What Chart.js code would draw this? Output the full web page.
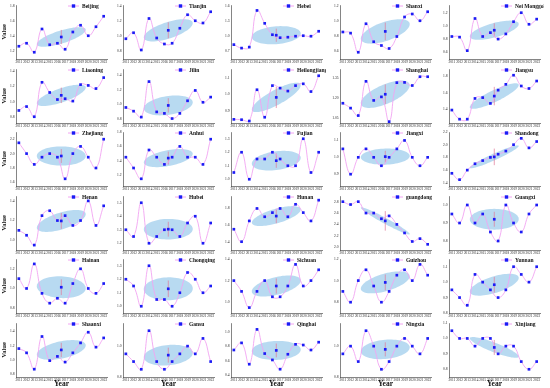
<!DOCTYPE html>
<html>
<head>
<meta charset="utf-8">
<script src="https://cdn.jsdelivr.net/npm/chart.js@4/dist/chart.umd.min.js"></script>
<style>
html,body{margin:0;padding:0;background:#fff;}
#wrap{position:relative;width:550px;height:388px;overflow:hidden;}
#wrap canvas{position:absolute;}
</style>
</head>
<body>
<div id="wrap"></div>
<script>
const years = [2011,2012,2013,2014,2015,2016,2017,2018,2019,2020,2021,2022];

// values, one array per province
const beijing      = [1.27,1.31,1.19,1.50,1.29,1.31,1.23,1.46,1.55,1.41,1.53,1.67];
const tianjin      = [0.97,1.05,0.82,1.24,0.98,0.90,0.91,1.11,1.29,1.21,1.18,1.33];
const hebei        = [0.83,0.76,0.78,1.52,1.26,1.03,0.97,0.98,1.00,1.01,1.00,1.10];
const shanxi       = [0.86,0.845,0.59,0.97,0.73,0.68,0.64,0.80,1.06,1.10,1.01,1.13];
const neiMonggol   = [0.84,0.83,0.62,1.12,0.84,0.90,0.80,0.88,1.07,1.21,1.03,1.11];
const liaoning     = [0.89,0.94,0.81,1.25,1.12,1.03,1.04,1.01,1.22,1.21,1.17,1.31];
const jilin        = [0.96,0.91,0.83,1.31,0.90,0.88,0.81,0.88,1.05,1.19,1.03,1.10];
const heilongjiang = [0.848,0.846,0.838,1.028,0.861,1.053,1.038,1.02,1.053,1.064,1.017,1.113];
const shanghai     = [1.162,1.126,1.071,1.324,1.183,1.209,1.026,1.314,1.316,1.293,1.358,1.358];
const jiangsu      = [1.39,1.28,1.28,1.53,1.54,1.47,1.63,1.70,1.81,1.68,1.65,1.74];
const zhejiang     = [2.15,2.00,1.85,1.95,2.00,1.95,1.65,2.00,2.10,1.95,1.80,2.20];
const anhui        = [1.45,1.30,1.15,1.55,1.45,1.35,1.45,1.60,1.45,1.45,1.35,1.70];
const fujian       = [1.05,1.20,1.00,1.15,1.15,1.20,1.15,1.10,1.10,1.30,1.05,1.20];
const jiangxi      = [1.05,0.90,1.00,1.05,1.00,0.95,1.00,1.05,1.10,1.00,0.95,1.00];
const shandong     = [1.55,1.45,1.60,1.70,1.75,1.80,1.85,1.90,2.00,2.10,1.95,2.05];
const henan        = [1.10,1.05,0.95,1.25,1.30,1.20,1.25,1.15,1.20,1.40,1.15,1.35];
const hubei        = [1.30,1.25,1.50,1.20,1.25,1.30,1.30,1.25,1.35,1.40,1.20,1.35];
const hunan        = [1.55,1.40,1.65,1.80,1.70,1.75,1.80,1.70,1.85,1.75,1.65,1.90];
const guangdong    = [2.80,2.75,2.80,2.60,2.60,2.50,2.55,2.40,2.25,2.10,2.15,2.05];
const guangxi      = [0.95,0.90,1.00,0.90,0.95,0.85,0.80,1.00,0.90,0.85,0.95,1.00];
const hainan       = [1.10,1.00,1.25,0.95,0.85,0.90,0.85,1.05,1.20,1.00,0.95,1.05];
const chongqing    = [1.20,1.15,1.00,1.30,1.05,1.05,1.00,1.10,1.25,1.20,1.10,1.15];
const sichuan      = [1.20,1.10,0.95,1.10,1.20,1.05,1.05,1.15,1.35,1.15,1.20,1.30];
const guizhou      = [0.90,0.80,1.00,1.10,0.95,0.80,0.90,1.05,1.10,1.00,1.15,1.05];
const yunnan       = [0.95,0.90,0.85,1.05,1.00,0.95,0.90,0.95,1.10,1.05,1.00,1.10];
const shaanxi      = [1.16,1.10,0.87,1.33,0.99,1.05,0.97,1.10,1.24,1.39,1.18,1.31];
const gansu        = [0.95,0.90,0.85,1.10,0.90,0.85,0.90,0.95,1.00,0.95,1.05,0.90];
const qinghai      = [0.75,0.85,0.55,1.04,0.70,0.61,0.48,0.69,0.83,0.82,0.75,0.86];
const ningxia      = [0.95,1.00,0.90,1.10,1.00,0.85,0.90,1.00,1.05,1.00,0.95,1.05];
const xinjiang     = [1.05,1.00,1.00,0.95,1.00,1.00,0.90,0.95,0.95,0.85,0.80,0.85];

// name, values, y tick labels, y axis min, y axis max
const panels = [
  ["Beijing", beijing, [1.2,1.4,1.6,1.8], 1.10, 1.82],
  ["Tianjin", tianjin, [0.8,1.0,1.2,1.4], 0.70, 1.42],
  ["Hebei", hebei, [0.7,1.0,1.3,1.6], 0.54, 1.63],
  ["Shanxi", shanxi, [0.6,0.8,1.0,1.2], 0.50, 1.22],
  ["Nei Monggol", neiMonggol, [0.6,0.8,1.0,1.2], 0.49, 1.33],
  ["Liaoning", liaoning, [0.8,1.0,1.2,1.4], 0.73, 1.42],
  ["Jilin", jilin, [0.8,1.0,1.2,1.4], 0.75, 1.48],
  ["Heilongjiang", heilongjiang, [0.9,1.0,1.1], 0.826, 1.154],
  ["Shanghai", shanghai, [1.05,1.20,1.35], 1.016, 1.415],
  ["Jiangsu", jiangsu, [1.4,1.6,1.8], 1.234, 1.885],
  ["Zhejiang", zhejiang, [1.6,1.8,2.0,2.2], 1.55, 2.30],
  ["Anhui", anhui, [1.2,1.4,1.6,1.8], 1.05, 1.80],
  ["Fujian", fujian, [1.0,1.1,1.2,1.3], 0.95, 1.35],
  ["Jiangxi", jiangxi, [0.9,1.0,1.1], 0.83, 1.15],
  ["Shandong", shandong, [1.4,1.6,1.8,2.0,2.2], 1.35, 2.20],
  ["Henan", henan, [1.0,1.2,1.4], 0.90, 1.45],
  ["Hubei", hubei, [1.2,1.3,1.4,1.5], 1.15, 1.55],
  ["Hunan", hunan, [1.4,1.6,1.8], 1.30, 1.95],
  ["guangdong", guangdong, [2.0,2.2,2.4,2.6,2.8], 1.95, 2.90],
  ["Guangxi", guangxi, [0.8,0.9,1.0], 0.75, 1.05],
  ["Hainan", hainan, [0.8,1.0,1.2], 0.75, 1.30],
  ["Chongqing", chongqing, [1.0,1.1,1.2,1.3], 0.95, 1.35],
  ["Sichuan", sichuan, [1.0,1.2,1.4], 0.90, 1.40],
  ["Guizhou", guizhou, [0.8,1.0,1.2], 0.70, 1.20],
  ["Yunnan", yunnan, [0.8,0.9,1.0,1.1], 0.80, 1.15],
  ["Shaanxi", shaanxi, [0.8,1.0,1.2,1.4], 0.76, 1.52],
  ["Gansu", gansu, [0.8,1.0,1.2], 0.80, 1.15],
  ["Qinghai", qinghai, [0.4,0.6,0.8,1.0], 0.37, 1.13],
  ["Ningxia", ningxia, [0.8,1.0,1.2], 0.80, 1.15],
  ["Xinjiang", xinjiang, [0.8,0.9,1.0,1.1], 0.75, 1.10]
];

const PINK = "#f2a4f2";
const BLUE = "#1c1cf5";
const SERIF = "'Liberation Serif', 'DejaVu Serif', serif";

const axisX = [16,123,231,340,449];
const rowH = 63.5;
const plotW = 95;

function stats(vals){
  const n = vals.length;
  const mx = years.reduce((a,b)=>a+b,0)/n;
  const my = vals.reduce((a,b)=>a+b,0)/n;
  let sxx=0, syy=0, sxy=0;
  for(let i=0;i<n;i++){
    const dx = years[i]-mx, dy = vals[i]-my;
    sxx += dx*dx; syy += dy*dy; sxy += dx*dy;
  }
  sxx/=(n-1); syy/=(n-1); sxy/=(n-1);
  return { mx, my, sxx, syy, sxy, ci: 2.201*Math.sqrt(syy)/Math.sqrt(n) };
}

const ellipsePlugin = {
  id: "ellipse",
  beforeDatasetsDraw(chart){
    const st = chart.options.plugins.ellipse;
    if(!st) return;
    const { ctx, scales:{x, y} } = chart;
    const a = st.sxx, b = st.sxy, c = st.syy;
    const tr = (a+c)/2, d = Math.sqrt(((a-c)/2)**2 + b*b);
    const l1 = tr + d, l2 = Math.max(tr - d, 0);
    const th = 0.5*Math.atan2(2*b, a-c);
    const k = 0.88;
    ctx.save();
    ctx.beginPath();
    for(let i=0;i<=72;i++){
      const t = i/72*Math.PI*2;
      const u = k*Math.sqrt(l1)*Math.cos(t), v = k*Math.sqrt(l2)*Math.sin(t);
      const px = x.getPixelForValue(st.mx + u*Math.cos(th) - v*Math.sin(th));
      const py = y.getPixelForValue(st.my + u*Math.sin(th) + v*Math.cos(th));
      if(i===0) ctx.moveTo(px,py); else ctx.lineTo(px,py);
    }
    ctx.closePath();
    ctx.fillStyle = "rgba(160,205,236,0.75)";
    ctx.fill();
    // interval bar at the centroid
    const cx = x.getPixelForValue(st.mx);
    ctx.beginPath();
    ctx.moveTo(cx, y.getPixelForValue(st.my - st.ci));
    ctx.lineTo(cx, y.getPixelForValue(st.my + st.ci));
    ctx.strokeStyle = "rgba(225,120,150,0.9)";
    ctx.lineWidth = 0.8;
    ctx.stroke();
    ctx.restore();
  }
};

const legendPlugin = {
  id: "miniLegend",
  afterDraw(chart){
    const { ctx, chartArea } = chart;
    const x0 = chartArea.left + 52, y0 = chartArea.top + 1;
    ctx.save();
    ctx.strokeStyle = PINK;
    ctx.lineWidth = 1;
    ctx.beginPath(); ctx.moveTo(x0, y0); ctx.lineTo(x0+11, y0); ctx.stroke();
    ctx.fillStyle = BLUE;
    ctx.fillRect(x0+5.5-1.7, y0-1.7, 3.4, 3.4);
    ctx.fillStyle = "#111";
    ctx.font = "bold 5.5px " + SERIF;
    ctx.textBaseline = "middle";
    ctx.fillText(chart.data.datasets[0].label, x0+14, y0+0.3);
    ctx.restore();
  }
};

const wrap = document.getElementById("wrap");

panels.forEach(([name, vals, yTicks, yMin, yMax], idx) => {
  const col = idx % 5, row = Math.floor(idx / 5);
  const first = col === 0, bottom = row === 5;
  const axW = first ? 16 : 13;
  const xH = bottom ? 12 : 7;
  const cv = document.createElement("canvas");
  const w = axW + plotW, h = 5 + 54 + xH;
  cv.width = w; cv.height = h;
  cv.style.left = (axisX[col] - axW) + "px";
  cv.style.top = (row * rowH) + "px";
  cv.style.width = w + "px"; cv.style.height = h + "px";
  cv.style.zIndex = String(10 - row);
  wrap.appendChild(cv);

  const st = stats(vals);
  const dec = Math.max(1, ...yTicks.map(t => (String(t).split(".")[1] || "").length));

  new Chart(cv, {
    type: "line",
    data: {
      datasets: [
        {
          label: name,
          data: years.map((yr, i) => ({ x: yr, y: vals[i] })),
          borderColor: PINK, borderWidth: 0.9, tension: 0.45,
          pointStyle: "rect", pointRadius: 1.9, pointBackgroundColor: BLUE,
          pointBorderWidth: 0, order: 2
        },
        {
          label: "centroid",
          data: [{ x: st.mx, y: st.my }],
          showLine: false,
          pointStyle: "rect", pointRadius: 1.9, pointBackgroundColor: BLUE,
          pointBorderWidth: 0, order: 1
        }
      ]
    },
    options: {
      responsive: false,
      animation: false,
      devicePixelRatio: 1,
      layout: { padding: { top: 5, right: 0, left: 0, bottom: 0 } },
      plugins: { legend: { display: false }, tooltip: { enabled: false }, ellipse: st },
      scales: {
        x: {
          type: "linear", min: 2010.63, max: 2022.43,
          afterBuildTicks: s => { s.ticks = years.map(v => ({ value: v })); },
          afterFit: s => { s.height = xH; },
          grid: { display: false, drawTicks: false, tickLength: 0 },
          border: { display: true, color: "#333", width: 0.6 },
          ticks: { autoSkip: false, maxRotation: 0, minRotation: 0, padding: 1,
                   font: { size: 3.4, family: SERIF }, color: "#222",
                   callback: v => String(v) },
          title: { display: bottom, text: "Year", padding: 0,
                   font: { size: 7.5, weight: "bold", family: SERIF }, color: "#111" }
        },
        y: {
          min: yMin, max: yMax,
          afterBuildTicks: s => { s.ticks = yTicks.map(v => ({ value: v })); },
          afterFit: s => { s.width = axW; },
          grid: { display: false, drawTicks: false, tickLength: 0 },
          border: { display: true, color: "#333", width: 0.6 },
          ticks: { padding: 1.5, font: { size: 3.6, family: SERIF }, color: "#222",
                   callback: v => Number(v).toFixed(dec) },
          title: { display: first, text: "Value", padding: 0,
                   font: { size: 6.5, weight: "bold", family: SERIF }, color: "#111" }
        }
      }
    },
    plugins: [ellipsePlugin, legendPlugin]
  });
});
</script>
</body>
</html>
